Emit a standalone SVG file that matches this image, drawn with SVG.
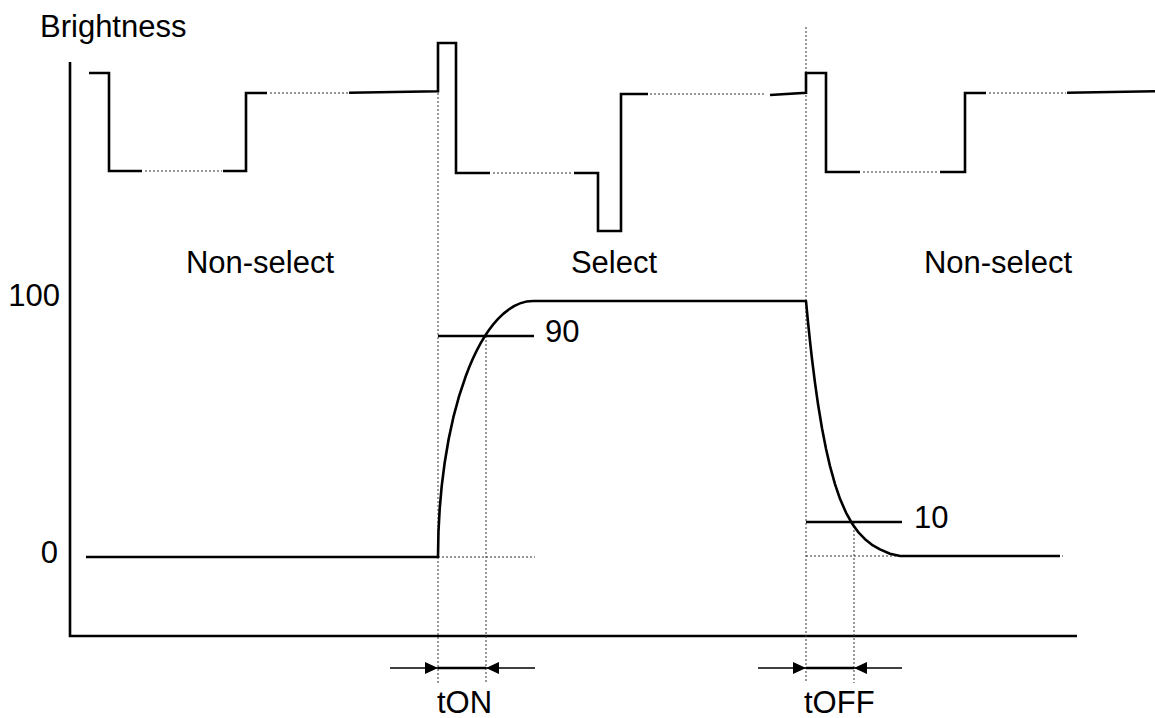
<svg xmlns="http://www.w3.org/2000/svg" width="1155" height="718" viewBox="0 0 1155 718">
<style>
.t{font-family:"Liberation Sans",Arial,sans-serif;font-size:31px;fill:#000}
.solid{fill:none;stroke:#000;stroke-width:2.6;stroke-linejoin:miter}
.curve{fill:none;stroke:#000;stroke-width:2.6;stroke-linejoin:round}
.dot{fill:none;stroke:#333;stroke-width:1;stroke-dasharray:2 2}
.thin{fill:none;stroke:#000;stroke-width:1.5}
</style>
<defs>
<marker id="ah" markerUnits="userSpaceOnUse" markerWidth="13" markerHeight="12" refX="13" refY="6" orient="auto">
<path d="M0,0 L13,6 L0,12 Z" fill="#000"/>
</marker>
</defs>
<rect width="1155" height="718" fill="#fff"/>
<g id="axes">
<path class="solid" d="M70,62 V636 H1077"/>
</g>
<g id="guides">
<path class="dot" d="M438,93 V683 M486,336 V683 M806,27 V683 M854,522 V683"/>
<path class="dot" d="M438,557 H535 M806,556 H1063"/>
<path class="dot" d="M145,171 H222 M270,93 H349 M493,173 H571 M650,94 H765 M863,172 H938 M989,93 H1066"/>
</g>
<g id="waveform">
<path class="solid" d="M89,73 H109 V171 H142"/>
<path class="solid" d="M223,171 H246 V93 H267"/>
<path class="solid" d="M349,92.7 L438,91.3 V43 H456 V173 H490"/>
<path class="solid" d="M574,173 H598 V231 H621 V94 H648"/>
<path class="solid" d="M770,95 L806,92.8 V73 H826 V172 H860"/>
<path class="solid" d="M940,172 H965 V93 H986"/>
<path class="solid" d="M1067,92.7 L1155,91.3"/>
</g>
<g id="response">
<path class="curve" d="M86,557 H438 A95,256 0 0 1 533,301 H806 L807,311.7 L808,322 L810,341.2 L812,359 L815,382.9 L818,404 L822,428.3 L826,448.8 L830,466.1 L835,484.1 L840,498.8 L846,512.6 L852,523.4 L858,531.8 L865,539.2 L872,544.8 L880,549.4 L890,553.8 L900,556 H1060"/>
<path class="solid" d="M438,336 H534"/>
<path class="solid" d="M806,522 H902"/>
</g>
<g id="timing">
<line class="thin" x1="390" y1="668" x2="438" y2="668" marker-end="url(#ah)"/>
<line class="thin" x1="535" y1="668" x2="486" y2="668" marker-end="url(#ah)"/>
<line class="solid" x1="438" y1="668" x2="486" y2="668"/>
<line class="thin" x1="758" y1="668" x2="806" y2="668" marker-end="url(#ah)"/>
<line class="thin" x1="902" y1="668" x2="854" y2="668" marker-end="url(#ah)"/>
<line class="solid" x1="806" y1="668" x2="854" y2="668"/>
</g>
<g id="labels">
<text class="t" x="40" y="37">Brightness</text>
<text class="t" x="60" y="306" text-anchor="end">100</text>
<text class="t" x="58" y="563" text-anchor="end">0</text>
<text class="t" x="260" y="273" text-anchor="middle">Non-select</text>
<text class="t" x="614" y="273" text-anchor="middle">Select</text>
<text class="t" x="998" y="273" text-anchor="middle">Non-select</text>
<text class="t" x="545" y="342">90</text>
<text class="t" x="914" y="528">10</text>
<text class="t" x="437" y="713">tON</text>
<text class="t" x="804" y="713">tOFF</text>
</g>
</svg>
